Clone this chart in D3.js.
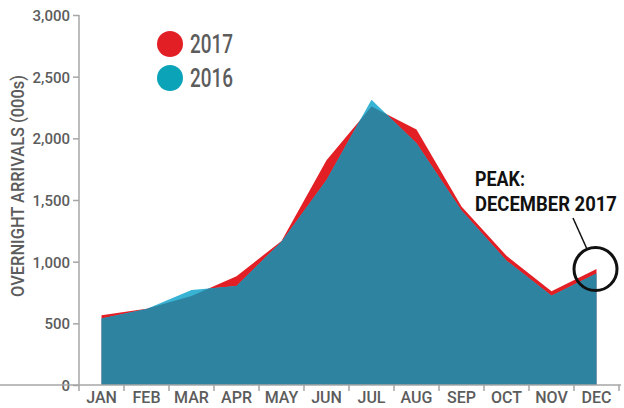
<!DOCTYPE html>
<html>
<head>
<meta charset="utf-8">
<script src="https://cdn.jsdelivr.net/npm/d3@7"></script>
<style>
  body { margin: 0; background: #fff; }
  svg text { font-family: Roboto, "Liberation Sans", sans-serif; }
</style>
</head>
<body>
<svg id="canvas" width="624" height="408"></svg>
<script>
// monthly overnight arrivals (000s)
const months = ['JAN', 'FEB', 'MAR', 'APR', 'MAY', 'JUN', 'JUL', 'AUG', 'SEP', 'OCT', 'NOV', 'DEC'];
const arrivals2017 = [565, 618, 722, 882, 1168, 1822, 2258, 2072, 1448, 1048, 760, 940];
const arrivals2016 = [540, 616, 770, 803, 1162, 1662, 2312, 1960, 1415, 1008, 724, 905];
const yTicks = [0, 500, 1000, 1500, 2000, 2500, 3000];

const red = '#e31f26';
const cyan = '#38b3d3';
const teal = '#2e83a1';
const grey = '#a6a6a6';
const textGrey = '#5c5c5c';

const canvas = d3.select('#canvas');

const x = d3.scaleBand()
  .domain(months)
  .range([79, 619]);

const y = d3.scaleLinear()
  .domain([0, 3000])
  .range([385, 15]);

const area = d3.area()
  .x((d, i) => x(months[i]) + x.bandwidth() / 2)
  .y0(y(0))
  .y1(d => y(d));

// 2017 behind, 2016 on top, overlap drawn darker
canvas.append('clipPath')
  .attr('id', 'clip2017')
  .append('path')
  .attr('d', area(arrivals2017));

canvas.append('path')
  .attr('d', area(arrivals2017))
  .attr('fill', red);

canvas.append('path')
  .attr('d', area(arrivals2016))
  .attr('fill', cyan);

canvas.append('path')
  .attr('d', area(arrivals2016))
  .attr('fill', teal)
  .attr('clip-path', 'url(#clip2017)');

// axes
const yAxis = canvas.append('g')
  .attr('transform', 'translate(79,0)')
  .call(d3.axisLeft(y).tickValues(yTicks).tickSize(6).tickPadding(3).tickFormat(d3.format(',')));

const xAxis = canvas.append('g')
  .attr('transform', 'translate(0,385)')
  .call(d3.axisBottom(x).tickSize(0).tickPadding(7));

// ticks between the months
xAxis.selectAll('.sep')
  .data(d3.range(months.length + 1))
  .enter()
  .append('line')
  .attr('x1', i => 79 + i * x.step())
  .attr('x2', i => 79 + i * x.step())
  .attr('y1', 0)
  .attr('y2', 6)
  .attr('stroke', grey)
  .attr('stroke-width', 1.5);

[yAxis, xAxis].forEach(g => {
  g.select('.domain').attr('stroke', grey).attr('stroke-width', 1.5);
  g.selectAll('.tick line').attr('stroke', grey).attr('stroke-width', 1.5);
  g.selectAll('text')
    .attr('fill', textGrey)
    .style('font-weight', '500');
});
yAxis.selectAll('text').style('font-size', '15px').attr('dy', '0.36em');
xAxis.selectAll('text').style('font-size', '16px');
yAxis.select('.domain').attr('d', 'M0,15V385');
xAxis.select('.domain').attr('d', 'M0,0H621');

canvas.append('text')
  .attr('transform', 'translate(24,186) rotate(-90)')
  .attr('text-anchor', 'middle')
  .attr('fill', textGrey)
  .attr('textLength', 222)
  .attr('lengthAdjust', 'spacingAndGlyphs')
  .style('font-size', '18px')
  .style('font-weight', '500')
  .text('OVERNIGHT ARRIVALS (000s)');

// legend
const legend = [{ label: '2017', color: red }, { label: '2016', color: '#0ba3b8' }];
const lg = canvas.selectAll('.legend')
  .data(legend)
  .enter()
  .append('g')
  .attr('transform', (d, i) => `translate(170,${44 + i * 34})`);
lg.append('circle').attr('r', 13).attr('fill', d => d.color);
lg.append('text')
  .attr('x', 20)
  .attr('y', 9)
  .attr('fill', textGrey)
  .attr('textLength', 43)
  .attr('lengthAdjust', 'spacingAndGlyphs')
  .style('font-size', '25px')
  .style('font-weight', '500')
  .text(d => d.label);

// peak annotation
const px = x('DEC') + x.bandwidth() / 2;
const py = y(arrivals2017[11]);
canvas.append('circle')
  .attr('cx', px - 1)
  .attr('cy', py)
  .attr('r', 21.5)
  .attr('fill', 'none')
  .attr('stroke', '#111')
  .attr('stroke-width', 3);
canvas.append('line')
  .attr('x1', 573).attr('y1', 218)
  .attr('x2', px - 10).attr('y2', py - 21)
  .attr('stroke', '#111')
  .attr('stroke-width', 1.5);
const notes = [{ t: 'PEAK:', w: 50 }, { t: 'DECEMBER 2017', w: 142 }];
canvas.selectAll('.note')
  .data(notes)
  .enter()
  .append('text')
  .attr('fill', '#111')
  .style('font-size', '20px')
  .style('font-weight', 'bold')
  .text(d => d.t)
  .attr('transform', function (d, i) {
    // squeeze to the condensed width of the original lettering
    const k = d.w / this.getComputedTextLength();
    return `translate(475,${186 + i * 25}) scale(${k},1)`;
  });
</script>
</body>
</html>
